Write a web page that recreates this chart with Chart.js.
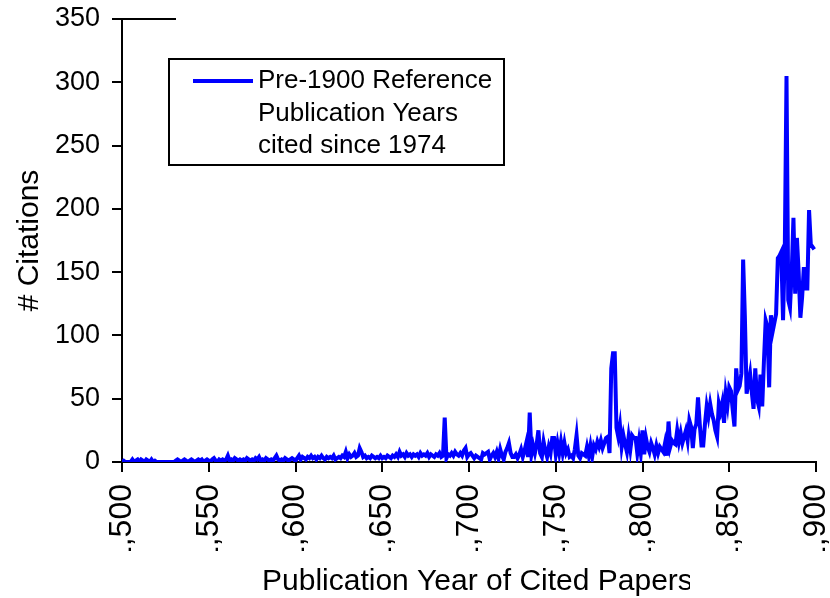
<!DOCTYPE html>
<html>
<head>
<meta charset="utf-8">
<script src="https://cdn.jsdelivr.net/npm/chart.js@4.4.0/dist/chart.umd.min.js"></script>
<style>
  html, body { margin: 0; padding: 0; background: #fff; }
  #wrap { width: 830px; height: 598px; }
</style>
</head>
<body>
<div id="wrap"><canvas id="chart" width="830" height="598"></canvas></div>
<script>
// citations per publication year, one value per year starting at 1500
const firstYear = 1500;
const cites1500s = [
  0,1,0,0,0,0,2,0,1,2,  0,2,1,0,2,1,0,2,0,1,  0,0,0,0,0,0,0,0,0,0,
  0,1,2,1,0,1,2,1,0,1,  2,1,0,1,2,1,2,0,1,2,  1,0,2,3,1,0,2,1,2,1,
  2,5,1,2,1,3,2,1,2,1,  2,1,3,2,1,2,1,3,2,4,  1,2,1,3,2,1,2,1,3,5,
  2,1,2,1,3,2,1,2,3,2
];
const cites1600s = [
  1,3,5,2,4,3,2,4,3,5,  3,4,2,4,3,5,3,2,4,3,  4,3,5,2,3,4,3,5,4,8,
  3,6,4,5,7,4,5,11,8,4, 5,3,4,3,5,4,3,4,3,5,  3,4,3,5,4,3,5,4,6,4,
  8,5,6,4,7,5,6,4,6,5,  6,4,7,5,6,5,7,4,6,5,  4,6,5,7,4,5,35,3,6,5,
  7,5,8,6,5,7,5,9,11,4
];
const cites1700s = [
  6,7,5,3,5,4,3,2,7,6,  7,8,2,5,7,4,8,3,10,5,  2,8,11,15,7,4,4,6,3,6,
  10,4,9,15,4,39,6,13,7,14,  25,7,4,16,9,4,12,7,19,19,  6,15,7,16,7,15,7,10,4,5,
  3,10,21,5,3,7,6,5,12,5,  13,4,13,10,16,12,17,11,15,19,  20,7,74,86,86,27,20,29,12,21,
  14,8,20,10,21,19,19,7,17,7
];
const cites1800s = [
  25,6,19,12,8,15,11,6,13,7,  12,10,8,15,5,32,12,17,15,14,  25,16,23,15,20,25,17,33,28,11,
  26,30,51,30,13,13,30,44,36,46,  38,33,25,20,46,40,47,31,54,45,  59,56,41,28,74,57,60,70,160,115,
  54,62,70,55,42,74,50,44,69,44,  80,112,107,59,116,103,110,117,161,163,  166,112,166,305,128,122,150,193,133,177,
  150,114,130,154,137,137,199,172,170,168
];

const xTickValues = [1500, 1550, 1600, 1650, 1700, 1750, 1800, 1850, 1900];
const yTickValues = [0, 50, 100, 150, 200, 250, 300, 350];
const legendLines = ["Pre-1900 Reference", "Publication Years", "cited since 1974"];
const xTitle = "Publication Year of Cited Papers";

const allCites = cites1500s.concat(cites1600s, cites1700s, cites1800s);
const points = allCites.map((v, i) => ({ x: firstYear + i, y: v }));

const FONT = "'Liberation Sans', Arial, sans-serif";

// legend box, x title (clipped on the right like the original) and the little line at the top of the y axis
const extras = {
  id: "extras",
  afterDraw(chart) {
    const ctx = chart.ctx;
    const top = chart.scales.y.getPixelForValue(350);
    ctx.save();
    ctx.strokeStyle = "#000";
    ctx.lineWidth = 2;
    ctx.beginPath();
    ctx.moveTo(chart.chartArea.left, top);
    ctx.lineTo(176, top);
    ctx.stroke();

    // the rotated year labels are cut off at the bottom in the original
    ctx.fillStyle = "#fff";
    ctx.fillRect(90, 551, 740, 47);

    ctx.save();
    ctx.beginPath();
    ctx.rect(0, 551, 690, 47);
    ctx.clip();
    ctx.fillStyle = "#000";
    ctx.font = "30px " + FONT;
    ctx.textBaseline = "middle";
    ctx.textAlign = "left";
    ctx.fillText(xTitle, 262, 582);
    ctx.restore();

    // legend
    ctx.fillStyle = "#fff";
    ctx.fillRect(169, 59, 335, 106);
    ctx.strokeStyle = "#000";
    ctx.lineWidth = 2;
    ctx.strokeRect(169, 59, 335, 106);
    ctx.strokeStyle = "#0000ff";
    ctx.lineWidth = 4;
    ctx.beginPath();
    ctx.moveTo(193, 81);
    ctx.lineTo(253, 81);
    ctx.stroke();
    ctx.fillStyle = "#000";
    ctx.font = "26px " + FONT;
    ctx.textBaseline = "middle";
    ctx.textAlign = "left";
    legendLines.forEach((t, i) => ctx.fillText(t, 258, 81 + i * 32.5));
    ctx.restore();
  }
};

new Chart(document.getElementById("chart"), {
  type: "line",
  data: {
    datasets: [{
      data: points,
      borderColor: "#0000ff",
      borderWidth: 4,
      pointRadius: 0,
      tension: 0,
      fill: false
    }]
  },
  options: {
    responsive: false,
    animation: false,
    layout: { padding: { top: 19, right: 14, left: 0, bottom: 0 } },
    plugins: { legend: { display: false }, tooltip: { enabled: false } },
    scales: {
      x: {
        type: "linear",
        min: 1500,
        max: 1900,
        afterBuildTicks: s => { s.ticks = xTickValues.map(v => ({ value: v })); },
        afterFit: s => {
          s.height = 136;
          s.paddingLeft = 0;
          s.paddingRight = 0;
        },
        ticks: {
          color: "#000",
          font: { family: FONT, size: 32 },
          minRotation: 90,
          maxRotation: 90,
          autoSkip: false,
          padding: 12
        },
        grid: { drawOnChartArea: false, drawTicks: true, tickLength: 10, color: "#000", lineWidth: 2 },
        border: { color: "#000", width: 2 }
      },
      y: {
        min: 0,
        max: 350,
        afterBuildTicks: s => { s.ticks = yTickValues.map(v => ({ value: v })); },
        afterFit: s => {
          s.width = 122;
          s.paddingTop = 0;
          s.paddingBottom = 0;
        },
        ticks: { color: "#000", font: { family: FONT, size: 27 }, padding: 12 },
        grid: { drawOnChartArea: false, drawTicks: true, tickLength: 10, color: "#000", lineWidth: 2 },
        border: { color: "#000", width: 2 },
        title: {
          display: true,
          text: "# Citations",
          color: "#000",
          font: { family: FONT, size: 30 },
          padding: { top: 12, bottom: 0 }
        }
      }
    }
  },
  plugins: [extras]
});
</script>
</body>
</html>
